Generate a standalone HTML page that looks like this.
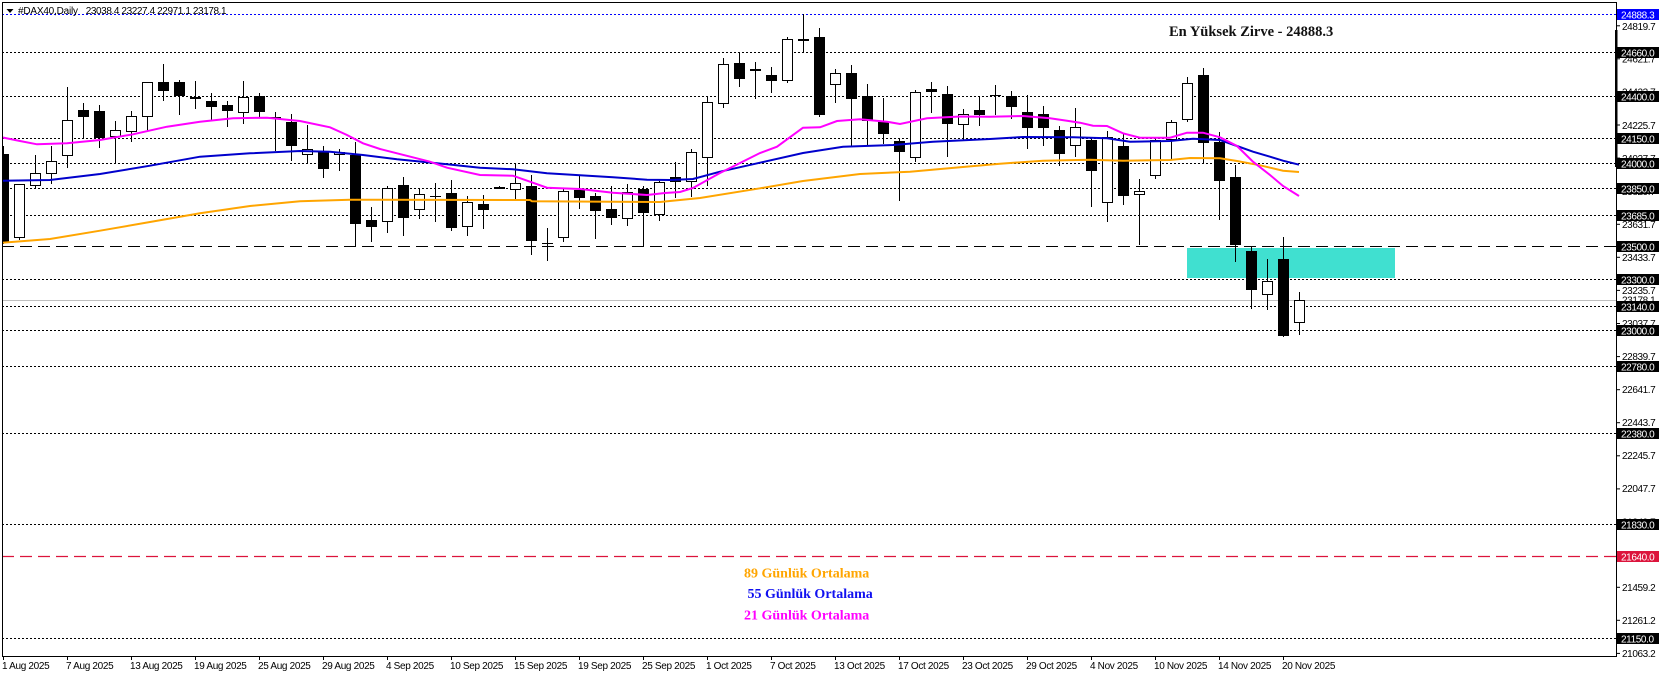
<!DOCTYPE html>
<html>
<head>
<meta charset="utf-8">
<style>
html,body{margin:0;padding:0;background:#fff;}
svg{display:block;}
.ax{font-family:"Liberation Sans",sans-serif;font-size:10px;letter-spacing:-0.4px;}
.dt{font-family:"Liberation Sans",sans-serif;font-size:10px;letter-spacing:-0.33px;}
.lg{font-family:"Liberation Serif",serif;font-weight:bold;}
</style>
</head>
<body>
<svg width="1662" height="677" viewBox="0 0 1662 677" xmlns="http://www.w3.org/2000/svg">
<defs>
<clipPath id="ca"><rect x="2" y="2" width="1614" height="654"/></clipPath>
</defs>
<rect x="0" y="0" width="1662" height="677" fill="#fff"/>
<g clip-path="url(#ca)">
<!-- zone -->
<rect x="1187" y="248" width="208" height="30" fill="#40E0D0"/>
<!-- horizontal levels -->
<g stroke="#000" stroke-width="1" stroke-dasharray="2 2" fill="none">
<line x1="2" y1="52.5" x2="1616" y2="52.5"/>
<line x1="2" y1="96.5" x2="1616" y2="96.5"/>
<line x1="2" y1="138.5" x2="1616" y2="138.5"/>
<line x1="2" y1="163.5" x2="1616" y2="163.5"/>
<line x1="2" y1="188.5" x2="1616" y2="188.5"/>
<line x1="2" y1="215.5" x2="1616" y2="215.5"/>
<line x1="2" y1="279.5" x2="1616" y2="279.5"/>
<line x1="2" y1="306.5" x2="1616" y2="306.5"/>
<line x1="2" y1="330.5" x2="1616" y2="330.5"/>
<line x1="2" y1="366.5" x2="1616" y2="366.5"/>
<line x1="2" y1="433.5" x2="1616" y2="433.5"/>
<line x1="2" y1="524.5" x2="1616" y2="524.5"/>
<line x1="2" y1="638.5" x2="1616" y2="638.5"/>
</g>
<line x1="2" y1="14.5" x2="1616" y2="14.5" stroke="#0000FF" stroke-width="1" stroke-dasharray="2 2"/>
<line x1="2" y1="246.5" x2="1616" y2="246.5" stroke="#000" stroke-width="1" stroke-dasharray="12 6"/>
<line x1="2" y1="556.5" x2="1616" y2="556.5" stroke="#DC143C" stroke-width="1.2" stroke-dasharray="12 6"/>
<line x1="2" y1="300.5" x2="1616" y2="300.5" stroke="#C0C0C0" stroke-width="1"/>
<!-- wicks -->
<path stroke="#000" stroke-width="1" fill="none" d="M3.5 146V244 M19.5 184V240 M35.5 155V188 M51.5 146V184 M67.5 87V168 M83.5 103V138 M99.5 105V148 M115.5 121V163 M131.5 111V142 M147.5 82V131 M163.5 64V101 M179.5 80V115 M195.5 81V109 M211.5 93V120 M227.5 101V127 M243.5 81V124 M259.5 93V117 M275.5 112V151 M291.5 114V161 M307.5 125V163 M323.5 146V178 M339.5 149V171 M355.5 142V246 M371.5 207V242 M387.5 186V233 M403.5 177V236 M419.5 188V219 M435.5 183V222 M451.5 180V231 M467.5 196V236 M483.5 195V229 M499.5 186V189 M515.5 163V199 M531.5 175V255 M547.5 228V261 M563.5 189V242 M579.5 176V209 M595.5 193V239 M611.5 186V225 M627.5 184V226 M643.5 186V246 M659.5 181V221 M675.5 162V198 M691.5 149V197 M707.5 97V186 M723.5 58V108 M739.5 52V87 M755.5 62V99 M771.5 67V93 M787.5 37V83 M803.5 14V52 M819.5 28V117 M835.5 69V103 M851.5 65V147 M867.5 84V145 M883.5 98V144 M899.5 138V201 M915.5 90V162 M931.5 82V113 M947.5 86V157 M963.5 109V141 M979.5 97V126 M995.5 85V115 M1011.5 91V119 M1027.5 95V149 M1043.5 106V146 M1059.5 126V166 M1075.5 108V157 M1091.5 138V207 M1107.5 131V222 M1123.5 134V205 M1139.5 179V245 M1155.5 139V179 M1171.5 120V159 M1187.5 77V122 M1203.5 68V164 M1219.5 132V220 M1235.5 165V262 M1251.5 246V309 M1267.5 259V310 M1283.5 237V337 M1299.5 292V335"/>
<!-- white bodies -->
<g fill="#fff" stroke="#000" stroke-width="1">
<rect x="14.5" y="184.5" width="10" height="53"/>
<rect x="30.5" y="173.5" width="10" height="12"/>
<rect x="46.5" y="161.5" width="10" height="12"/>
<rect x="62.5" y="120.5" width="10" height="35"/>
<rect x="110.5" y="130.5" width="10" height="6"/>
<rect x="126.5" y="116.5" width="10" height="15"/>
<rect x="142.5" y="82.5" width="10" height="34"/>
<rect x="238.5" y="97.5" width="10" height="15"/>
<rect x="302.5" y="149.5" width="10" height="5"/>
<rect x="334.5" y="152.5" width="10" height="2"/>
<rect x="382.5" y="188.5" width="10" height="33"/>
<rect x="414.5" y="194.5" width="10" height="15"/>
<rect x="462.5" y="202.5" width="10" height="24"/>
<rect x="510.5" y="183.5" width="10" height="6"/>
<rect x="558.5" y="191.5" width="10" height="46"/>
<rect x="622.5" y="192.5" width="10" height="26"/>
<rect x="654.5" y="182.5" width="10" height="32"/>
<rect x="686.5" y="152.5" width="10" height="29"/>
<rect x="702.5" y="102.5" width="10" height="55"/>
<rect x="718.5" y="64.5" width="10" height="39"/>
<rect x="750.5" y="69.5" width="10" height="1"/>
<rect x="782.5" y="39.5" width="10" height="41"/>
<rect x="830.5" y="73.5" width="10" height="11"/>
<rect x="910.5" y="92.5" width="10" height="65"/>
<rect x="958.5" y="114.5" width="10" height="10"/>
<rect x="1070.5" y="127.5" width="10" height="18"/>
<rect x="1102.5" y="137.5" width="10" height="65"/>
<rect x="1134.5" y="191.5" width="10" height="3"/>
<rect x="1150.5" y="140.5" width="10" height="35"/>
<rect x="1166.5" y="122.5" width="10" height="17"/>
<rect x="1182.5" y="83.5" width="10" height="36"/>
<rect x="1262.5" y="281.5" width="10" height="13"/>
<rect x="1294.5" y="300.5" width="10" height="22"/>
</g>
<!-- black bodies -->
<g fill="#000">
<rect x="-2" y="154" width="11" height="89"/>
<rect x="78" y="110" width="11" height="7"/>
<rect x="94" y="111" width="11" height="27"/>
<rect x="158" y="82" width="11" height="9"/>
<rect x="174" y="82" width="11" height="14"/>
<rect x="190" y="97" width="11" height="2"/>
<rect x="206" y="101" width="11" height="6"/>
<rect x="222" y="105" width="11" height="6"/>
<rect x="254" y="96" width="11" height="16"/>
<rect x="270" y="117" width="11" height="2"/>
<rect x="286" y="122" width="11" height="24"/>
<rect x="318" y="152" width="11" height="17"/>
<rect x="350" y="155" width="11" height="69"/>
<rect x="366" y="220" width="11" height="7"/>
<rect x="398" y="185" width="11" height="33"/>
<rect x="446" y="193" width="11" height="35"/>
<rect x="478" y="204" width="11" height="6"/>
<rect x="526" y="186" width="11" height="55"/>
<rect x="574" y="190" width="11" height="8"/>
<rect x="590" y="196" width="11" height="15"/>
<rect x="606" y="209" width="11" height="9"/>
<rect x="638" y="189" width="11" height="24"/>
<rect x="670" y="177" width="11" height="5"/>
<rect x="734" y="63" width="11" height="16"/>
<rect x="766" y="75" width="11" height="6"/>
<rect x="798" y="39" width="11" height="2"/>
<rect x="814" y="37" width="11" height="78"/>
<rect x="846" y="73" width="11" height="26"/>
<rect x="862" y="96" width="11" height="25"/>
<rect x="878" y="122" width="11" height="12"/>
<rect x="894" y="141" width="11" height="11"/>
<rect x="926" y="89" width="11" height="3"/>
<rect x="942" y="94" width="11" height="30"/>
<rect x="974" y="110" width="11" height="5"/>
<rect x="1006" y="96" width="11" height="11"/>
<rect x="1022" y="112" width="11" height="16"/>
<rect x="1038" y="114" width="11" height="14"/>
<rect x="1054" y="130" width="11" height="24"/>
<rect x="1086" y="140" width="11" height="31"/>
<rect x="1118" y="146" width="11" height="50"/>
<rect x="1198" y="75" width="11" height="68"/>
<rect x="1214" y="142" width="11" height="39"/>
<rect x="1230" y="177" width="11" height="68"/>
<rect x="1246" y="251" width="11" height="39"/>
<rect x="1278" y="259" width="11" height="77"/>
<!-- dojis -->
<rect x="430" y="196" width="11" height="1"/>
<rect x="494" y="187" width="11" height="2"/>
<rect x="542" y="243" width="11" height="1"/>
<rect x="990" y="95" width="11" height="1"/>
</g>
<!-- moving averages -->
<polyline fill="none" stroke="#FFA500" stroke-width="2" points="2,242.7 50,239 100,230.7 150,222 200,213.3 250,206 300,201.3 350,199.7 530,200 532,201.3 660,202 700,198 760,188.3 803,181 860,174 910,171.7 960,167.3 1000,163.7 1043,160.7 1090,159.7 1123,160.7 1170,160 1190,158 1220,158.3 1237,161 1260,165.3 1283,170.7 1299,172"/>
<polyline fill="none" stroke="#0000CC" stroke-width="2" points="2,180.7 50,180 100,174 150,165.7 200,156.7 250,153.3 300,151 330,151.7 363,155 397,159.3 447,164.3 480,167.7 513,169.3 547,173.3 580,175.3 613,177.3 647,179.7 670,180 693,179 720,171.7 760,162.7 803,153 843,146.7 893,145 933,141.7 990,139 1023,137 1073,137.3 1107,138.3 1130,141.7 1170,141 1193,138.7 1220,140 1237,146 1253,151.7 1270,156.7 1283,160.7 1299,164.7"/>
<polyline fill="none" stroke="#FF00FF" stroke-width="2" points="2,137.3 20,141 37,144.3 67,143.3 100,140 133,134.3 167,126.7 200,121.7 233,118.3 267,117.7 300,121 330,127.3 347,135 363,143.3 380,149 397,153.3 430,161.7 447,167.7 480,175 513,175.7 530,181.7 547,187.7 580,189 613,192.7 647,195 665,193 680,192 693,188 720,173 760,153 777,146.7 803,127.7 820,127.3 837,121 860,119.3 887,121.7 900,124 927,118.3 960,116.5 990,116.7 1023,116 1050,118.3 1067,120.7 1080,122.7 1093,125.7 1107,126 1123,133.3 1140,137.7 1170,137.7 1187,132.7 1203,132.7 1220,137.3 1237,146 1253,161.7 1270,175 1283,186 1299,196"/>
</g>

<!-- header -->
<polygon points="6.5,9 13.5,9 10,13" fill="#000"/>
<text x="18" y="14" class="ax" style="letter-spacing:-0.2px" fill="#000">#DAX40,Daily</text>
<text x="85.7" y="14" class="ax" fill="#000">23038.4 23227.4 22971.1 23178.1</text>

<!-- annotations -->
<text x="1169" y="36" class="lg" font-size="14.5" fill="#111">En Yüksek Zirve - 24888.3</text>
<text x="744" y="577.5" class="lg" font-size="14" fill="#FFA500">89 Günlük Ortalama</text>
<text x="747.5" y="598" class="lg" font-size="14" fill="#1010F0">55 Günlük Ortalama</text>
<text x="744" y="619.5" class="lg" font-size="14" fill="#FF00FF">21 Günlük Ortalama</text>

<!-- frame -->
<rect x="2.5" y="2.5" width="1614" height="654" fill="none" stroke="#000" stroke-width="1"/>
<rect x="1615" y="30" width="2.5" height="137" fill="#000"/>

<!-- right axis ticks -->
<g stroke="#000" stroke-width="1">
<line x1="1617" y1="25.8" x2="1620" y2="25.8"/>
<line x1="1617" y1="58.8" x2="1620" y2="58.8"/>
<line x1="1617" y1="91.9" x2="1620" y2="91.9"/>
<line x1="1617" y1="125" x2="1620" y2="125"/>
<line x1="1617" y1="158.1" x2="1620" y2="158.1"/>
<line x1="1617" y1="191.2" x2="1620" y2="191.2"/>
<line x1="1617" y1="224.3" x2="1620" y2="224.3"/>
<line x1="1617" y1="257.3" x2="1620" y2="257.3"/>
<line x1="1617" y1="290.4" x2="1620" y2="290.4"/>
<line x1="1617" y1="323.5" x2="1620" y2="323.5"/>
<line x1="1617" y1="356.6" x2="1620" y2="356.6"/>
<line x1="1617" y1="389.7" x2="1620" y2="389.7"/>
<line x1="1617" y1="422.7" x2="1620" y2="422.7"/>
<line x1="1617" y1="455.8" x2="1620" y2="455.8"/>
<line x1="1617" y1="488.9" x2="1620" y2="488.9"/>
<line x1="1617" y1="522" x2="1620" y2="522"/>
<line x1="1617" y1="587.3" x2="1620" y2="587.3"/>
<line x1="1617" y1="620.3" x2="1620" y2="620.3"/>
<line x1="1617" y1="653.4" x2="1620" y2="653.4"/>
</g>
<g class="ax" fill="#000">
<text x="1622" y="30">24819.7</text>
<text x="1622" y="62.5">24621.7</text>
<text x="1622" y="95.5">24423.7</text>
<text x="1622" y="128.8">24225.7</text>
<text x="1622" y="161.8">24027.7</text>
<text x="1622" y="195">23829.7</text>
<text x="1622" y="228">23631.7</text>
<text x="1622" y="261">23433.7</text>
<text x="1622" y="294">23235.7</text>
<text x="1622" y="303.5">23178.1</text>
<text x="1622" y="327">23037.7</text>
<text x="1622" y="360">22839.7</text>
<text x="1622" y="393">22641.7</text>
<text x="1622" y="426">22443.7</text>
<text x="1622" y="459">22245.7</text>
<text x="1622" y="492">22047.7</text>
<text x="1622" y="525.5">21849.7</text>
<text x="1622" y="591">21459.2</text>
<text x="1622" y="624">21261.2</text>
<text x="1622" y="657">21063.2</text>
</g>
<!-- price boxes -->
<g>
<rect x="1617" y="9" width="42" height="11" fill="#0000FF"/>
<rect x="1617" y="47" width="42" height="11" fill="#000"/>
<rect x="1617" y="91" width="42" height="11" fill="#000"/>
<rect x="1617" y="133" width="42" height="11" fill="#000"/>
<rect x="1617" y="158" width="42" height="11" fill="#000"/>
<rect x="1617" y="183" width="42" height="11" fill="#000"/>
<rect x="1617" y="210" width="42" height="11" fill="#000"/>
<rect x="1617" y="241" width="42" height="11" fill="#000"/>
<rect x="1617" y="274" width="42" height="11" fill="#000"/>
<rect x="1617" y="301" width="42" height="11" fill="#000"/>
<rect x="1617" y="325" width="42" height="11" fill="#000"/>
<rect x="1617" y="361" width="42" height="11" fill="#000"/>
<rect x="1617" y="428" width="42" height="11" fill="#000"/>
<rect x="1617" y="519" width="42" height="11" fill="#000"/>
<rect x="1617" y="551" width="42" height="11" fill="#DC143C"/>
<rect x="1617" y="633" width="42" height="11" fill="#000"/>
</g>
<g class="ax" fill="#fff">
<text x="1621" y="18.3">24888.3</text>
<text x="1621" y="56.3">24660.0</text>
<text x="1621" y="100.3">24400.0</text>
<text x="1621" y="142.3">24150.0</text>
<text x="1621" y="167.3">24000.0</text>
<text x="1621" y="192.3">23850.0</text>
<text x="1621" y="219.3">23685.0</text>
<text x="1621" y="250.3">23500.0</text>
<text x="1621" y="283.3">23300.0</text>
<text x="1621" y="310.3">23140.0</text>
<text x="1621" y="334.3">23000.0</text>
<text x="1621" y="370.3">22780.0</text>
<text x="1621" y="437.3">22380.0</text>
<text x="1621" y="528.3">21830.0</text>
<text x="1621" y="560.3">21640.0</text>
<text x="1621" y="642.3">21150.0</text>
</g>

<!-- bottom axis -->
<g stroke="#000" stroke-width="1">
<line x1="3.5" y1="657" x2="3.5" y2="660"/>
<line x1="67.5" y1="657" x2="67.5" y2="660"/>
<line x1="131.5" y1="657" x2="131.5" y2="660"/>
<line x1="195.5" y1="657" x2="195.5" y2="660"/>
<line x1="259.5" y1="657" x2="259.5" y2="660"/>
<line x1="323.5" y1="657" x2="323.5" y2="660"/>
<line x1="387.5" y1="657" x2="387.5" y2="660"/>
<line x1="451.5" y1="657" x2="451.5" y2="660"/>
<line x1="515.5" y1="657" x2="515.5" y2="660"/>
<line x1="579.5" y1="657" x2="579.5" y2="660"/>
<line x1="643.5" y1="657" x2="643.5" y2="660"/>
<line x1="707.5" y1="657" x2="707.5" y2="660"/>
<line x1="771.5" y1="657" x2="771.5" y2="660"/>
<line x1="835.5" y1="657" x2="835.5" y2="660"/>
<line x1="899.5" y1="657" x2="899.5" y2="660"/>
<line x1="963.5" y1="657" x2="963.5" y2="660"/>
<line x1="1027.5" y1="657" x2="1027.5" y2="660"/>
<line x1="1091.5" y1="657" x2="1091.5" y2="660"/>
<line x1="1155.5" y1="657" x2="1155.5" y2="660"/>
<line x1="1219.5" y1="657" x2="1219.5" y2="660"/>
<line x1="1283.5" y1="657" x2="1283.5" y2="660"/>
</g>
<g class="dt" fill="#000">
<text x="2" y="669">1 Aug 2025</text>
<text x="66" y="669">7 Aug 2025</text>
<text x="130" y="669">13 Aug 2025</text>
<text x="194" y="669">19 Aug 2025</text>
<text x="258" y="669">25 Aug 2025</text>
<text x="322" y="669">29 Aug 2025</text>
<text x="386" y="669">4 Sep 2025</text>
<text x="450" y="669">10 Sep 2025</text>
<text x="514" y="669">15 Sep 2025</text>
<text x="578" y="669">19 Sep 2025</text>
<text x="642" y="669">25 Sep 2025</text>
<text x="706" y="669">1 Oct 2025</text>
<text x="770" y="669">7 Oct 2025</text>
<text x="834" y="669">13 Oct 2025</text>
<text x="898" y="669">17 Oct 2025</text>
<text x="962" y="669">23 Oct 2025</text>
<text x="1026" y="669">29 Oct 2025</text>
<text x="1090" y="669">4 Nov 2025</text>
<text x="1154" y="669">10 Nov 2025</text>
<text x="1218" y="669">14 Nov 2025</text>
<text x="1282" y="669">20 Nov 2025</text>
</g>
</svg>
</body>
</html>
